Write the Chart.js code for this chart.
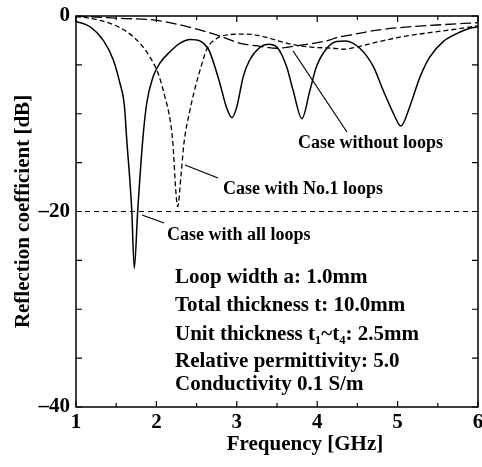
<!DOCTYPE html>
<html>
<head>
<meta charset="utf-8">
<script src="https://cdn.jsdelivr.net/npm/chart.js@4.4.0/dist/chart.umd.min.js"></script>
<style>
  html, body { margin: 0; padding: 0; background: #fff; }
  #wrap { width: 482px; height: 467px; }
</style>
</head>
<body>
<div id="wrap"><canvas id="c" width="482" height="467"></canvas></div>
<script>
// ---- data ----
const freqAll = [1.00, 1.174, 1.34, 1.464, 1.547, 1.60, 1.63, 1.693, 1.725, 1.767, 1.83, 1.88, 1.96, 2.045, 2.17, 2.29, 2.42, 2.54, 2.64, 2.67, 2.79, 2.87, 2.94, 3.00, 3.08, 3.16, 3.29, 3.39, 3.50, 3.62, 3.70, 3.81, 3.91, 3.99, 4.12, 4.24, 4.35, 4.53, 4.70, 4.82, 4.95, 5.04, 5.15, 5.28, 5.40, 5.57, 5.735, 5.90, 6.00];
const dbAll   = [-0.55, -1.1, -2.5, -4.5, -6.9, -9.0, -12.5, -19.8, -25.8, -20.0, -12.7, -8.9, -6.2, -4.8, -3.65, -2.8, -2.4, -2.55, -3.3, -3.8, -6.9, -9.3, -10.4, -9.3, -6.2, -4.5, -3.2, -2.9, -3.2, -5.2, -7.6, -10.5, -7.6, -5.2, -3.3, -2.6, -2.55, -3.3, -5.2, -7.6, -10.0, -11.25, -9.3, -6.2, -4.2, -2.6, -1.8, -1.26, -1.1];

const freqNo1 = [1.00, 1.174, 1.423, 1.63, 1.796, 1.92, 2.023, 2.107, 2.17, 2.205, 2.244, 2.265, 2.306, 2.343, 2.418, 2.48, 2.555, 2.626, 2.75, 2.915, 3.123, 3.33, 3.537, 3.745, 3.95, 4.20, 4.325, 4.53, 4.78, 5.07, 5.40, 5.735, 6.00];
const dbNo1   = [-0.05, -0.24, -0.75, -1.6, -2.8, -4.2, -5.9, -8.3, -10.6, -13.0, -18.2, -19.5, -16.3, -13.0, -9.6, -7.4, -5.2, -3.4, -2.3, -1.9, -1.85, -2.1, -2.6, -3.0, -3.2, -3.3, -3.4, -3.1, -2.6, -2.1, -1.7, -1.33, -1.0];

const freqNone = [1.00, 1.174, 1.547, 1.96, 2.29, 2.54, 2.79, 3.04, 3.29, 3.50, 3.70, 3.95, 4.16, 4.24, 4.41, 4.70, 5.07, 5.49, 6.00];
const dbNone   = [0, -0.07, -0.24, -0.4, -0.9, -1.43, -2.05, -2.8, -3.1, -3.3, -3.1, -2.8, -2.45, -2.2, -1.95, -1.5, -1.16, -0.92, -0.68];

const refFreq = [1, 6];
const refDb = [-20, -20];

const xTickValues = [1, 2, 3, 4, 5, 6];
const yTickValues = [0, -20, -40];

const seriesNames = ['Case with all loops', 'Case with No.1 loops', 'Case without loops'];
const paramLines = ['Loop width a: 1.0mm', 'Total thickness t: 10.0mm', 'Unit thickness t\u2081~t\u2084: 2.5mm', 'Relative permittivity: 5.0', 'Conductivity 0.1 S/m'];
const xTitle = 'Frequency [GHz]';
const yTitle = 'Reflection coefficient [dB]';

// ---- build ----
const pts = (xs, ys) => xs.map((x, i) => ({x: x, y: ys[i]}));
const FONT = '"Liberation Serif", "Times New Roman", serif';

const decor = {
  id: 'decor',
  afterDraw(chart) {
    const {ctx, chartArea: a, scales: {x, y}} = chart;
    ctx.save();
    ctx.strokeStyle = '#000';
    ctx.fillStyle = '#000';
    // frame
    ctx.lineWidth = 1.5;
    ctx.strokeRect(a.left, a.top, a.right - a.left, a.bottom - a.top);
    // ticks (inward, mirrored)
    ctx.lineWidth = 1.2;
    ctx.beginPath();
    for (let v = 1; v <= 6.001; v += 0.5) {
      const px = x.getPixelForValue(v);
      const len = Math.abs(v - Math.round(v)) < 1e-6 ? 6 : 4;
      ctx.moveTo(px, a.bottom); ctx.lineTo(px, a.bottom - len);
      ctx.moveTo(px, a.top); ctx.lineTo(px, a.top + len);
    }
    for (let v = 0; v >= -40; v -= 5) {
      const py = y.getPixelForValue(v);
      ctx.moveTo(a.left, py); ctx.lineTo(a.left + 6, py);
      ctx.moveTo(a.right, py); ctx.lineTo(a.right - 6, py);
    }
    ctx.stroke();

    // leader lines (data coordinates)
    const P = (f, d) => [x.getPixelForValue(f), y.getPixelForValue(d)];
    const leaders = [[[3.70, -3.58], [4.37, -11.87]], [[2.356, -15.24], [2.766, -16.57]], [[1.821, -20.36], [2.095, -21.18]]];
    ctx.lineWidth = 1.2;
    leaders.forEach(([p, q]) => {
      const [x1, y1] = P(p[0], p[1]); const [x2, y2] = P(q[0], q[1]);
      ctx.beginPath(); ctx.moveTo(x1, y1); ctx.lineTo(x2, y2); ctx.stroke();
    });

    // annotation labels
    ctx.textBaseline = 'middle';
    ctx.textAlign = 'left';
    ctx.font = 'bold 18px ' + FONT;
    const labelPos = [[2.132, -22.4], [2.828, -17.7], [3.761, -13.0]];
    seriesNames.forEach((s, i) => {
      const [px, py] = P(labelPos[i][0], labelPos[i][1]);
      ctx.fillText(s, px, py);
    });

    // parameter text
    ctx.font = 'bold 21px ' + FONT;
    const paramY = [-26.77, -29.67, -32.63, -35.37, -37.75];
    paramLines.forEach((s, i) => {
      const [px, py] = P(2.231, paramY[i]);
      ctx.fillText(s, px, py);
    });

    // x axis title
    ctx.textAlign = 'center';
    ctx.font = 'bold 21px ' + FONT;
    ctx.fillText(xTitle, 305, 445);
    ctx.restore();
  }
};

const chart = new Chart(document.getElementById('c'), {
  type: 'line',
  data: {
    datasets: [
      { label: seriesNames[0], data: pts(freqAll, dbAll), borderColor: '#000', borderWidth: 1.5, pointRadius: 0, cubicInterpolationMode: 'monotone', fill: false },
      { label: seriesNames[1], data: pts(freqNo1, dbNo1), borderColor: '#000', borderWidth: 1.3, borderDash: [5, 3], pointRadius: 0, cubicInterpolationMode: 'monotone', fill: false },
      { label: seriesNames[2], data: pts(freqNone, dbNone), borderColor: '#000', borderWidth: 1.3, borderDash: [11, 4], pointRadius: 0, cubicInterpolationMode: 'monotone', fill: false },
      { label: 'ref', data: pts(refFreq, refDb), borderColor: '#000', borderWidth: 1.2, borderDash: [5, 4], pointRadius: 0, fill: false }
    ]
  },
  options: {
    responsive: false,
    animation: false,
    events: [],
    layout: { padding: { left: 0, right: 4, top: 16, bottom: 0 } },
    plugins: { legend: { display: false }, tooltip: { enabled: false } },
    scales: {
      x: {
        type: 'linear', min: 1, max: 6,
        grid: { display: false, drawTicks: false },
        border: { display: false },
        afterBuildTicks: (s) => { s.ticks = xTickValues.map(v => ({value: v})); },
        afterFit: (s) => { s.height = 60; s.paddingLeft = 0; s.paddingRight = 0; },
        ticks: { color: '#000', padding: 3, maxRotation: 0, autoSkip: false, font: { family: FONT, size: 21, weight: 'bold' } }
      },
      y: {
        type: 'linear', min: -40, max: 0,
        grid: { display: false, drawTicks: false },
        border: { display: false },
        afterBuildTicks: (s) => { s.ticks = yTickValues.map(v => ({value: v})); },
        afterFit: (s) => { s.width = 76; s.paddingTop = 0; s.paddingBottom = 0; },
        ticks: { color: '#000', padding: 6, font: { family: FONT, size: 21, weight: 'bold' },
          callback: (v) => v < 0 ? '\u2013' + Math.abs(v) : String(v) },
        title: { display: true, text: yTitle, color: '#000', padding: { top: 11, bottom: 0 }, font: { family: FONT, size: 21, weight: 'bold' } }
      }
    }
  },
  plugins: [decor]
});
</script>
</body>
</html>
